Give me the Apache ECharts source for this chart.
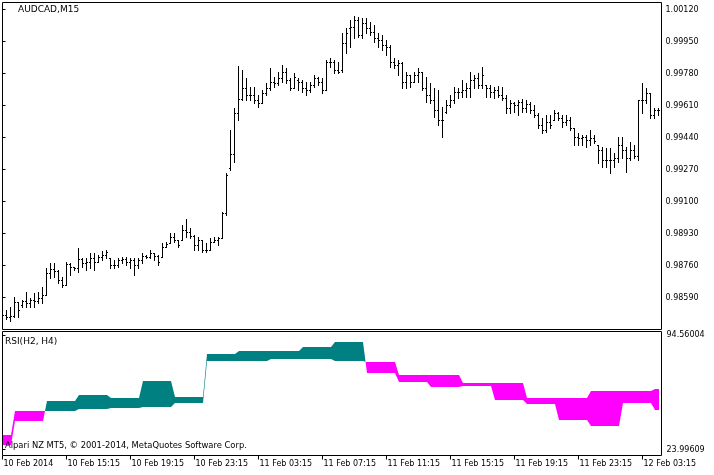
<!DOCTYPE html>
<html>
<head>
<meta charset="utf-8">
<script src="https://cdn.jsdelivr.net/npm/echarts@6/dist/echarts.min.js"></script>
<style>html,body{margin:0;padding:0;background:#fff}#c{width:714px;height:475px}</style>
</head>
<body>
<div id="c"></div>
<script>
// ---- AUDCAD M15 bars (index 0 = 10 Feb 11:15) ----
var barOpen = [
0.98491,0.98496,0.98486,0.98491,0.98565,0.98549,0.98571,0.98560,0.98576,0.98571,
0.98587,0.98602,0.98719,0.98741,0.98730,0.98682,0.98656,0.98767,0.98751,0.98746,
0.98794,0.98772,0.98778,0.98799,0.98778,0.98804,0.98815,0.98799,0.98762,0.98762,
0.98788,0.98794,0.98778,0.98788,0.98762,0.98788,0.98810,0.98804,0.98826,0.98810,
0.98804,0.98857,0.98879,0.98911,0.98895,0.98895,0.98948,0.98937,0.98916,0.98868,
0.98895,0.98842,0.98842,0.98884,0.98895,0.98905,0.99038,0.99277,0.99352,0.99569,
0.99644,0.99702,0.99665,0.99665,0.99638,0.99622,0.99676,0.99702,0.99734,0.99729,
0.99755,0.99787,0.99745,0.99702,0.99745,0.99734,0.99702,0.99692,0.99718,0.99755,
0.99734,0.99692,0.99840,0.99840,0.99798,0.99798,0.99941,1.00021,1.00026,1.00063,
0.99984,1.00047,1.00021,1.00000,0.99968,0.99957,0.99931,0.99920,0.99840,0.99824,
0.99835,0.99734,0.99771,0.99734,0.99771,0.99787,0.99702,0.99665,0.99638,0.99585,
0.99532,0.99575,0.99612,0.99638,0.99681,0.99681,0.99692,0.99702,0.99745,0.99755,
0.99718,0.99718,0.99702,0.99681,0.99692,0.99665,0.99649,0.99596,0.99622,0.99612,
0.99628,0.99596,0.99617,0.99585,0.99559,0.99506,0.99479,0.99522,0.99532,0.99569,
0.99543,0.99522,0.99532,0.99490,0.99442,0.99437,0.99442,0.99426,0.99437,0.99399,
0.99373,0.99320,0.99320,0.99320,0.99330,0.99399,0.99373,0.99330,0.99373,0.99341,
0.99638,0.99638,0.99676,0.99559,0.99585
];
var barHigh = [
0.98512,0.98523,0.98539,0.98592,0.98565,0.98576,0.98618,0.98587,0.98613,0.98618,
0.98645,0.98746,0.98772,0.98772,0.98735,0.98698,0.98778,0.98772,0.98751,0.98852,
0.98799,0.98799,0.98826,0.98826,0.98815,0.98836,0.98842,0.98799,0.98788,0.98799,
0.98804,0.98804,0.98799,0.98799,0.98799,0.98826,0.98815,0.98842,0.98826,0.98815,
0.98879,0.98884,0.98932,0.98932,0.98895,0.98974,0.99006,0.98958,0.98921,0.98911,
0.98895,0.98879,0.98905,0.98911,0.98911,0.99043,0.99251,0.99479,0.99596,0.99819,
0.99798,0.99755,0.99707,0.99707,0.99665,0.99692,0.99729,0.99808,0.99761,0.99787,
0.99824,0.99808,0.99755,0.99782,0.99755,0.99745,0.99734,0.99734,0.99771,0.99761,
0.99755,0.99851,0.99862,0.99851,0.99840,0.99994,1.00021,1.00063,1.00085,1.00079,
1.00074,1.00074,1.00053,1.00037,0.99994,0.99984,0.99957,0.99931,0.99862,0.99851,
0.99840,0.99787,0.99771,0.99787,0.99808,0.99787,0.99761,0.99729,0.99702,0.99692,
0.99601,0.99638,0.99665,0.99707,0.99702,0.99745,0.99729,0.99787,0.99771,0.99782,
0.99814,0.99718,0.99718,0.99707,0.99713,0.99707,0.99665,0.99638,0.99628,0.99638,
0.99644,0.99638,0.99628,0.99612,0.99569,0.99543,0.99559,0.99559,0.99585,0.99575,
0.99559,0.99559,0.99548,0.99490,0.99463,0.99452,0.99452,0.99479,0.99452,0.99399,
0.99389,0.99383,0.99383,0.99357,0.99442,0.99442,0.99389,0.99415,0.99399,0.99638,
0.99729,0.99702,0.99676,0.99596,0.99596
];
var barLow = [
0.98480,0.98475,0.98464,0.98486,0.98486,0.98539,0.98539,0.98539,0.98539,0.98560,
0.98560,0.98602,0.98693,0.98698,0.98666,0.98645,0.98656,0.98709,0.98735,0.98725,
0.98751,0.98735,0.98746,0.98735,0.98778,0.98788,0.98799,0.98746,0.98746,0.98751,
0.98772,0.98762,0.98746,0.98709,0.98746,0.98772,0.98799,0.98799,0.98788,0.98762,
0.98804,0.98857,0.98879,0.98884,0.98857,0.98895,0.98911,0.98905,0.98842,0.98842,
0.98831,0.98831,0.98842,0.98884,0.98868,0.98905,0.99027,0.99267,0.99309,0.99532,
0.99638,0.99638,0.99638,0.99622,0.99601,0.99622,0.99665,0.99692,0.99707,0.99718,
0.99734,0.99729,0.99692,0.99702,0.99692,0.99681,0.99665,0.99681,0.99707,0.99718,
0.99676,0.99692,0.99814,0.99782,0.99782,0.99787,0.99888,0.99920,0.99968,0.99973,
0.99968,0.99994,0.99984,0.99947,0.99920,0.99904,0.99877,0.99814,0.99808,0.99771,
0.99702,0.99702,0.99707,0.99734,0.99734,0.99692,0.99628,0.99622,0.99548,0.99506,
0.99442,0.99569,0.99601,0.99622,0.99649,0.99654,0.99654,0.99654,0.99702,0.99702,
0.99702,0.99654,0.99654,0.99649,0.99654,0.99638,0.99569,0.99569,0.99575,0.99559,
0.99575,0.99575,0.99569,0.99548,0.99490,0.99463,0.99468,0.99490,0.99532,0.99532,
0.99495,0.99506,0.99479,0.99399,0.99399,0.99399,0.99389,0.99399,0.99410,0.99304,
0.99282,0.99282,0.99251,0.99282,0.99309,0.99330,0.99256,0.99320,0.99330,0.99320,
0.99569,0.99622,0.99543,0.99543,0.99559
];
var barClose = [
0.98496,0.98486,0.98491,0.98565,0.98523,0.98571,0.98560,0.98576,0.98571,0.98587,
0.98602,0.98719,0.98741,0.98730,0.98682,0.98656,0.98767,0.98751,0.98746,0.98794,
0.98772,0.98778,0.98799,0.98778,0.98804,0.98815,0.98831,0.98762,0.98762,0.98788,
0.98794,0.98778,0.98788,0.98762,0.98788,0.98810,0.98804,0.98826,0.98810,0.98778,
0.98857,0.98873,0.98911,0.98895,0.98868,0.98948,0.98937,0.98916,0.98868,0.98895,
0.98842,0.98842,0.98884,0.98895,0.98905,0.99038,0.99240,0.99352,0.99569,0.99644,
0.99702,0.99665,0.99665,0.99638,0.99622,0.99676,0.99702,0.99734,0.99729,0.99755,
0.99787,0.99745,0.99702,0.99761,0.99734,0.99702,0.99692,0.99718,0.99755,0.99734,
0.99692,0.99840,0.99840,0.99798,0.99787,0.99941,0.99994,1.00026,1.00063,0.99984,
1.00047,1.00021,1.00000,0.99968,0.99957,0.99931,0.99920,0.99840,0.99824,0.99835,
0.99734,0.99771,0.99734,0.99771,0.99787,0.99702,0.99665,0.99638,0.99585,0.99532,
0.99532,0.99612,0.99638,0.99681,0.99681,0.99692,0.99702,0.99745,0.99755,0.99718,
0.99771,0.99702,0.99681,0.99692,0.99665,0.99649,0.99596,0.99622,0.99612,0.99628,
0.99596,0.99617,0.99585,0.99559,0.99506,0.99479,0.99522,0.99506,0.99569,0.99543,
0.99522,0.99532,0.99490,0.99442,0.99437,0.99442,0.99426,0.99437,0.99421,0.99373,
0.99320,0.99320,0.99320,0.99330,0.99399,0.99373,0.99330,0.99373,0.99341,0.99638,
0.99638,0.99676,0.99559,0.99585,0.99585
];

// ---- RSI on H2 and H4, value per M15 bar ----
var rsiH2 = [
27.08,27.08,27.08,
41.88,41.88,41.88,41.88,41.88,41.88,41.88,41.88,
54.22,54.22,54.22,54.22,54.22,54.22,54.22,54.22,
57.92,57.92,57.92,57.92,57.92,57.92,57.92,57.92,
55.88,55.88,55.88,55.88,55.88,55.88,55.88,55.88,
66.56,66.56,66.56,66.56,66.56,66.56,66.56,66.56,
56.50,56.50,56.50,56.50,56.50,56.50,56.50,56.50,
83.03,83.03,83.03,83.03,83.03,83.03,83.03,83.03,
85.06,85.06,85.06,85.06,85.06,85.06,85.06,85.06,
85.06,85.06,85.06,85.06,85.06,85.06,85.06,85.06,
87.16,87.16,87.16,87.16,87.16,87.16,87.16,87.16,
90.43,90.43,90.43,90.43,90.43,90.43,90.43,90.43,
71.31,71.31,71.31,71.31,71.31,71.31,71.31,71.31,
65.75,65.75,65.75,65.75,65.75,65.75,65.75,65.75,
62.48,62.48,62.48,62.48,62.48,62.48,62.48,62.48,
63.10,63.10,63.10,63.10,63.10,63.10,63.10,63.10,
54.84,54.84,54.84,54.84,54.84,54.84,54.84,54.84,
52.18,52.18,52.18,52.18,52.18,52.18,52.18,52.18,
42.50,42.50,42.50,42.50,42.50,42.50,42.50,42.50,
38.80,38.80,38.80,38.80,38.80,38.80,38.80,38.80,
52.80,52.80,52.80,52.80,52.80,52.80,52.80,52.80,
48.67,48.67
];
var rsiH4 = [
33.25,33.25,33.25,
47.68,47.68,47.68,47.68,47.68,47.68,47.68,47.68,
48.05,48.05,48.05,48.05,48.05,48.05,48.05,48.05,
49.10,49.10,49.10,49.10,49.10,49.10,49.10,49.10,
49.72,49.72,49.72,49.72,49.72,49.72,49.72,49.72,
50.33,50.33,50.33,50.33,50.33,50.33,50.33,50.33,
52.80,52.80,52.80,52.80,52.80,52.80,52.80,52.80,
78.52,78.52,78.52,78.52,78.52,78.52,78.52,78.52,
78.52,78.52,78.52,78.52,78.52,78.52,78.52,78.52,
80.13,80.13,80.13,80.13,80.13,80.13,80.13,80.13,
80.13,80.13,80.13,80.13,80.13,80.13,80.13,80.13,
78.52,78.52,78.52,78.52,78.52,78.52,78.52,78.52,
78.09,78.09,78.09,78.09,78.09,78.09,78.09,78.09,
70.26,70.26,70.26,70.26,70.26,70.26,70.26,70.26,
70.26,70.26,70.26,70.26,70.26,70.26,70.26,70.26,
65.14,65.14,65.14,65.14,65.14,65.14,65.14,65.14,
65.14,65.14,65.14,65.14,65.14,65.14,65.14,65.14,
55.88,55.88,55.88,55.88,55.88,55.88,55.88,55.88,
55.88,55.88,55.88,55.88,55.88,55.88,55.88,55.88,
60.39,60.39,60.39,60.39,60.39,60.39,60.39,60.39,
60.39,60.39,60.39,60.39,60.39,60.39,60.39,60.39,
61.44,61.44
];

// ---- axis ticks / labels ----
var priceTicks = [0.98590,0.98760,0.98930,0.99100,0.99270,0.99440,0.99610,0.99780,0.99950,1.00120];
var rsiTicks = [23.99609, 94.56004];
var timeTickBars = [0,16,32,48,64,80,96,112,128,144,160];
var timeLabels = ['10 Feb 2014','10 Feb 15:15','10 Feb 19:15','10 Feb 23:15','11 Feb 03:15','11 Feb 07:15',
                  '11 Feb 11:15','11 Feb 15:15','11 Feb 19:15','11 Feb 23:15','12 Feb 03:15'];

var FONT = 'DejaVu Sans';
var TEAL = '#008080', MAGENTA = '#FF00FF';

var ohlcData = barOpen.map(function (o, i) { return [i, o, barHigh[i], barLow[i], barClose[i]]; });
var rsiData = rsiH2.map(function (v, i) { return [i, v, rsiH4[i]]; });

function renderBar(params, api) {
  var k = api.value(0);
  var pO = api.coord([k, api.value(1)]);
  var pH = api.coord([k, api.value(2)]);
  var pL = api.coord([k, api.value(3)]);
  var pC = api.coord([k, api.value(4)]);
  var x = Math.floor(pH[0]);
  var yH = Math.floor(pH[1]), yL = Math.floor(pL[1]);
  var yO = Math.floor(pO[1]), yC = Math.floor(pC[1]);
  return {
    type: 'group',
    children: [
      { type: 'rect', shape: { x: x, y: yH, width: 1, height: yL - yH + 1 }, style: { fill: '#000' } },
      { type: 'rect', shape: { x: x - 1, y: yO, width: 1, height: 1 }, style: { fill: '#000' } },
      { type: 'rect', shape: { x: x + 1, y: yC, width: 1, height: 1 }, style: { fill: '#000' } }
    ]
  };
}

function renderFill(params, api) {
  var i = params.dataIndex;
  if (i >= rsiH2.length - 1) return null;
  function r(p) { return [Math.round(p[0]), Math.round(p[1])]; }
  var f0 = r(api.coord([i, rsiH2[i]])), s0 = r(api.coord([i, rsiH4[i]]));
  var f1 = r(api.coord([i + 1, rsiH2[i + 1]])), s1 = r(api.coord([i + 1, rsiH4[i + 1]]));
  var d0 = rsiH2[i] - rsiH4[i], d1 = rsiH2[i + 1] - rsiH4[i + 1];
  var kids = [];
  function poly(pts, up) {
    kids.push({ type: 'polygon', shape: { points: pts }, style: { fill: up ? TEAL : MAGENTA } });
  }
  if (d0 * d1 >= 0) {
    poly([f0, f1, s1, s0], (d0 + d1) > 0);
  } else {
    var dy0 = f0[1] - s0[1], dy1 = f1[1] - s1[1];
    var t = dy0 / (dy0 - dy1);
    var px = f0[0] + (f1[0] - f0[0]) * t, py = f0[1] + (f1[1] - f0[1]) * t;
    poly([f0, [px, py], s0], d0 > 0);
    poly([[px, py], f1, s1], d1 > 0);
  }
  return { type: 'group', children: kids };
}

var chart = echarts.init(document.getElementById('c'), null, { renderer: 'canvas' });
chart.setOption({
  animation: false,
  backgroundColor: '#fff',
  grid: [
    { left: 2.5, top: 2.5, width: 659, height: 327, show: true, borderColor: '#000', borderWidth: 1, backgroundColor: '#fff' },
    { left: 2.5, top: 331.5, width: 659, height: 124, show: true, borderColor: '#000', borderWidth: 1, backgroundColor: '#fff' }
  ],
  xAxis: [
    { type: 'value', gridIndex: 0, min: 0, max: 164.75, show: false },
    {
      type: 'value', gridIndex: 1, min: 0, max: 164.75,
      axisLine: { show: false }, splitLine: { show: false },
      axisTick: { show: true, customValues: timeTickBars, length: 4, lineStyle: { color: '#000' } },
      axisLabel: {
        customValues: timeTickBars, align: 'left', margin: 4, color: '#000',
        fontFamily: FONT, fontSize: 8, padding: [0, 0, 0, 1],
        formatter: function (v) { return timeLabels[timeTickBars.indexOf(v)]; }
      }
    }
  ],
  yAxis: [
    {
      type: 'value', gridIndex: 0, position: 'right', min: 0.98420, max: 1.0015719,
      axisLine: { show: false }, splitLine: { show: false },
      axisTick: { show: true, customValues: priceTicks, length: 3, lineStyle: { color: '#000' } },
      axisLabel: {
        customValues: priceTicks, margin: 4, color: '#000', fontFamily: FONT, fontSize: 8,
        formatter: function (v) { return v.toFixed(5); }
      }
    },
    {
      type: 'value', gridIndex: 1, position: 'right', min: 20.4186, max: 96.904,
      axisLine: { show: false }, splitLine: { show: false },
      axisTick: { show: true, customValues: rsiTicks, length: 3, lineStyle: { color: '#000' } },
      axisLabel: {
        customValues: rsiTicks, margin: 5, color: '#000', fontFamily: FONT, fontSize: 8,
        formatter: function (v) { return v.toFixed(5); }
      }
    }
  ],
  series: [
    {
      type: 'custom', name: 'AUDCAD,M15', xAxisIndex: 0, yAxisIndex: 0, clip: true,
      data: ohlcData, encode: { x: 0, y: [1, 2, 3, 4] }, renderItem: renderBar
    },
    {
      type: 'custom', name: 'RSI(H2, H4)', xAxisIndex: 1, yAxisIndex: 1, clip: true,
      data: rsiData, encode: { x: 0, y: [1, 2] }, renderItem: renderFill
    }
  ],
  graphic: [
    { type: 'text', x: 18, y: 10, z: 100, style: { text: 'AUDCAD,M15', fontFamily: FONT, fontSize: 9, fill: '#000', align: 'left', verticalAlign: 'middle' } },
    { type: 'text', x: 5, y: 341.5, z: 100, style: { text: 'RSI(H2, H4)', fontFamily: FONT, fontSize: 9, fill: '#000', align: 'left', verticalAlign: 'middle' } },
    { type: 'text', x: 5, y: 446, z: 100, style: { text: 'Alpari NZ MT5, © 2001-2014, MetaQuotes Software Corp.', fontFamily: FONT, fontSize: 8.4, fill: '#000', align: 'left', verticalAlign: 'middle' } }
  ]
});
</script>
</body>
</html>
